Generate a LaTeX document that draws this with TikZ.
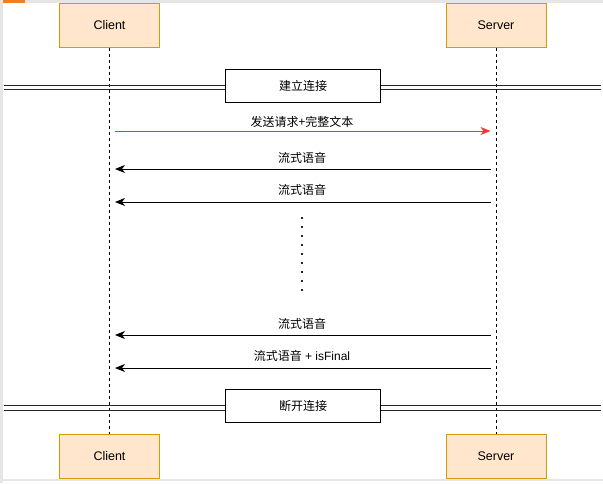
\documentclass[tikz,border=0pt]{standalone}
\usepackage{fontspec}
\setmainfont{Liberation Sans}
\newfontfamily\cjk{Noto Sans CJK SC}
\usetikzlibrary{arrows.meta}
\definecolor{boxfill}{HTML}{FFE6CC}
\definecolor{boxdraw}{HTML}{D79B00}
\definecolor{msgred}{HTML}{FF3333}
\definecolor{framegray}{HTML}{E6E6E6}
\definecolor{tabor}{HTML}{EE7E22}
\begin{document}
\begin{tikzpicture}[x=1pt,y=-1pt,
  actor/.style={draw=boxdraw, fill=boxfill, line width=0.9pt, minimum width=100pt, minimum height=44pt, inner sep=0pt, font=\fontsize{12.5}{14}\selectfont},
  life/.style={line width=0.9pt, dash pattern=on 3pt off 3pt},
  sepline/.style={line width=1pt, draw=black!85},
  phase/.style={draw=black, fill=white, line width=0.9pt, minimum width=155pt, minimum height=33pt, inner sep=0pt, font=\fontsize{12}{14}\selectfont\cjk},
  msg/.style={line width=1pt, -{Stealth[length=10pt,width=8pt,inset=3pt]}, shorten <=5.5pt, shorten >=5.5pt},
  lbl/.style={font=\fontsize{12}{14}\selectfont, inner sep=0pt}
]
\useasboundingbox (0,0) rectangle (603,483);
% frame
\fill[framegray] (0,0) rectangle (603,3);
\fill[tabor] (0,0) rectangle (25,3);
\fill[framegray] (0,0) rectangle (3,483);
\fill[framegray] (0,479) rectangle (603,481);

% actors
\node[actor] (c1) at (109.5,25.3) {Client};
\node[actor] (s1) at (496,25.3) {Server};
\node[actor] (c2) at (109.5,456.3) {Client};
\node[actor] (s2) at (496,456.3) {Server};

% lifelines
\draw[life] (c1.south) -- (c2.north);
\draw[life] (s1.south) -- (s2.north);

% dividers
\coordinate (d1l) at (4,85);   \coordinate (d1r) at (601,85);
\coordinate (d1l2) at (4,89.5); \coordinate (d1r2) at (601,89.5);
\coordinate (d2l) at (4,405.3);  \coordinate (d2r) at (601,405.3);
\coordinate (d2l2) at (4,410);   \coordinate (d2r2) at (601,410);
\draw[sepline] (d1l) -- (d1r);
\draw[sepline] (d1l2) -- (d1r2);
\draw[sepline] (d2l) -- (d2r);
\draw[sepline] (d2l2) -- (d2r2);
\node[phase] (p1) at (303,86) {建立连接};
\node[phase] (p2) at (303,406) {断开连接};

% message endpoints
\coordinate (cA) at (109.5,131); \coordinate (sA) at (496,131);
\coordinate (cB) at (109.5,169); \coordinate (sB) at (496,169);
\coordinate (cC) at (109.5,202); \coordinate (sC) at (496,202);
\coordinate (cD) at (109.5,335); \coordinate (sD) at (496,335);
\coordinate (cE) at (109.5,368); \coordinate (sE) at (496,368);

\draw[msg, draw=msgred, fill=msgred] (cA) -- (sA);
\draw[msg] (sB) -- (cB);
\draw[msg] (sC) -- (cC);
\draw[msg] (sD) -- (cD);
\draw[msg] (sE) -- (cE);

\node[lbl] (lA) at (302,122) {{\cjk 发送请求+完整文本}};
\node[lbl] (lB) at (302,157.5) {{\cjk 流式语音}};
\node[lbl] (lC) at (302,189.5) {{\cjk 流式语音}};
\node[lbl] (lD) at (302,323.5) {{\cjk 流式语音}};
\node[lbl] (lE) at (302,355.5) {{\cjk 流式语音} + isFinal};

% ellipsis dots
\foreach \k in {0,...,8} {
  \fill[black!85] (301,{217.3+8.9*\k}) rectangle ++(2,2);
}
\end{tikzpicture}
\end{document}
